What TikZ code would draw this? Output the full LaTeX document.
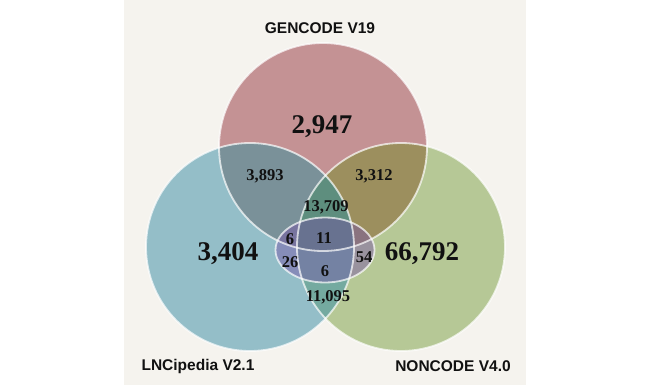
\documentclass[tikz,border=0pt]{standalone}
\usepackage{fontspec}
\setmainfont{Liberation Serif}
\newfontfamily\labfont{Liberation Sans}
\definecolor{bgc}{HTML}{F5F3EE}
\definecolor{cred}{HTML}{C49294}
\definecolor{cblue}{HTML}{94BEC8}
\definecolor{cgreen}{HTML}{B6C896}
\definecolor{crb}{HTML}{7A9199}
\definecolor{crg}{HTML}{9C8F5E}
\definecolor{cbg}{HTML}{74AAA0}
\definecolor{crbg}{HTML}{5E8E7E}
\definecolor{cell}{HTML}{7652A8}
\definecolor{txt}{HTML}{111111}
\tikzset{
  setlabel/.style={font=\labfont\bfseries\fontsize{15.5}{18}\selectfont, text=txt},
  bignum/.style={font=\bfseries\fontsize{27}{30}\selectfont, text=txt},
  smallnum/.style={font=\bfseries\fontsize{16.5}{19}\selectfont, text=txt},
  rim/.style={draw=white, draw opacity=0.7, line width=1.8pt}
}
\begin{document}
\begin{tikzpicture}[x=1pt,y=-1pt]
\useasboundingbox (0,0) rectangle (650,385);
\fill[white] (0,0) rectangle (650,385);
\fill[bgc] (124,0) rectangle (526,385);
\coordinate (R) at (323,147);
\coordinate (B) at (250,247);
\coordinate (G) at (401,247);
\coordinate (E) at (325,250);
\def\rad{104pt}
% base fills
\fill[cred] (R) circle (\rad);
\fill[cblue] (B) circle (\rad);
\fill[cgreen] (G) circle (\rad);
% pairwise overlaps
\begin{scope}
  \clip (R) circle (\rad);
  \fill[crb] (B) circle (\rad);
  \fill[crg] (G) circle (\rad);
\end{scope}
\begin{scope}
  \clip (B) circle (\rad);
  \fill[cbg] (G) circle (\rad);
\end{scope}
\begin{scope}
  \clip (R) circle (\rad);
  \clip (B) circle (\rad);
  \fill[crbg] (G) circle (\rad);
\end{scope}
% ellipse
\fill[cell, fill opacity=0.45] (E) ellipse [x radius=49.5pt, y radius=32.5pt];
% rims
\draw[rim] (R) circle (\rad);
\draw[rim] (B) circle (\rad);
\draw[rim] (G) circle (\rad);
\draw[rim] (E) ellipse [x radius=49.5pt, y radius=32.5pt];
% labels
\node[setlabel] (lg) at (320,28) {GENCODE V19};
\node[setlabel] (ll) at (198,366) {LNCipedia V2.1};
\node[setlabel] (ln) at (453,366) {NONCODE V4.0};
% numbers
\node[bignum] (n1) at (322,127) {2,947};
\node[bignum] (n2) at (228,254) {3,404};
\node[bignum] (n3) at (422,254) {66,792};
\node[smallnum] (n4) at (265,176) {3,893};
\node[smallnum] (n5) at (374,176) {3,312};
\node[smallnum] (n6) at (326,207) {13,709};
\node[smallnum] (n7) at (328,297) {11,095};
\node[smallnum] (n8) at (290,239) {6};
\node[smallnum] (n9) at (324,238) {11};
\node[smallnum] (n10) at (290,262) {26};
\node[smallnum] (n11) at (325,271) {6};
\node[smallnum] (n12) at (364,257) {54};
\end{tikzpicture}
\end{document}
